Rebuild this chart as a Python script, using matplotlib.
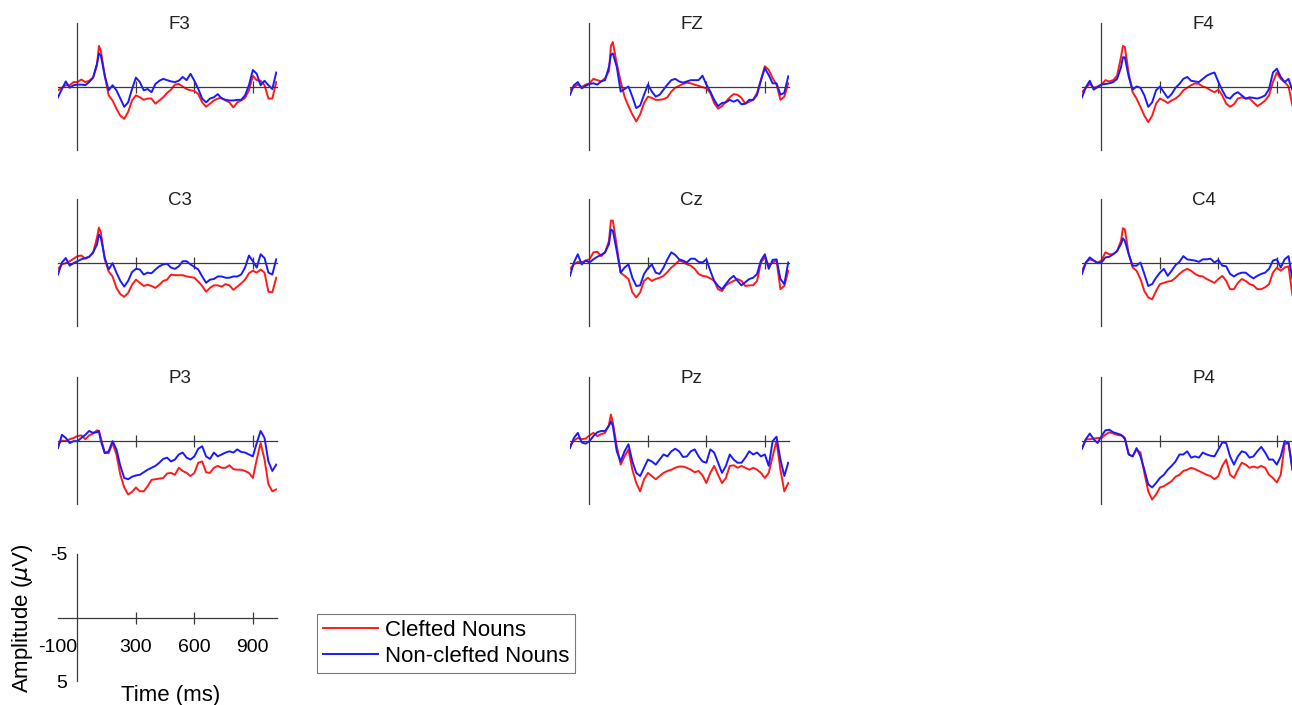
import matplotlib
matplotlib.use('Agg')
import matplotlib.pyplot as plt

plt.rcParams['font.family'] = ['Liberation Sans', 'DejaVu Sans']

# ---------------- data (ms, µV; negative plotted up) ----------------
times_ms = [-100, -80, -60, -40, -20, 0, 20, 40, 60, 80,
            100, 110, 120, 140, 160, 180, 200, 220, 240, 260,
            280, 300, 320, 340, 360, 380, 400, 420, 440, 460,
            480, 500, 520, 540, 560, 580, 600, 620, 640, 660,
            680, 700, 720, 740, 760, 780, 800, 820, 840, 860,
            880, 900, 920, 940, 960, 980, 1000, 1020]

channels = ['F3', 'FZ', 'F4', 'C3', 'Cz', 'C4', 'P3', 'Pz', 'P4']
legend_labels = ['Clefted Nouns', 'Non-clefted Nouns']
x_tick_values = [-100, 300, 600, 900]
y_tick_values = [-5, 5]

F3_clefted = [0.3, 0.1, -0.1, -0.1, -0.35, -0.35, -0.55, -0.35, -0.45, -0.7,
              -1.65, -3.2, -2.8, -0.85, 0.7, 1.1, 1.75, 2.3, 2.55, 2.0,
              1.1, 0.7, 0.85, 1.05, 0.95, 0.95, 1.35, 1.1, 0.85, 0.5,
              0.25, -0.15, -0.2, 0.0, 0.2, 0.3, 0.35, 0.6, 1.25, 1.6,
              1.35, 1.1, 0.95, 0.9, 1.1, 1.25, 1.65, 1.25, 1.1, 0.9,
              0.3, -0.85, -0.5, -0.45, -0.1, 0.95, 0.95, -0.35]
F3_noncleft = [0.85, 0.2, -0.4, 0.1, -0.1, -0.15, -0.15, -0.1, -0.35, -0.7,
               -1.8, -2.6, -2.45, -0.85, 0.3, -0.1, 0.3, 0.95, 1.6, 1.25,
               0.2, -0.7, -0.35, 0.3, 0.2, 0.45, -0.2, -0.45, -0.6, -0.5,
               -0.4, -0.35, -0.45, -0.75, -0.5, -1.0, -0.45, 0.2, 0.95, 1.25,
               0.95, 0.85, 0.6, 0.95, 1.05, 1.1, 1.1, 1.05, 1.05, 0.7,
               -0.1, -1.3, -1.0, -0.1, -0.45, -0.1, 0.2, -1.1]

FZ_clefted = [0.25, 0.05, -0.15, 0.05, -0.15, -0.25, -0.6, -0.5, -0.4, -0.65,
              -1.2, -3.2, -3.5, -1.8, -0.4, 0.8, 1.55, 2.2, 2.75, 2.2,
              1.3, 0.8, 0.9, 1.05, 1.05, 1.0, 0.85, 0.4, 0.1, -0.05,
              -0.2, -0.3, -0.25, -0.15, -0.05, 0.05, 0.15, 0.5, 1.3, 1.75,
              1.55, 1.2, 0.85, 0.6, 0.65, 0.9, 1.35, 1.2, 1.05, 0.5,
              -0.5, -1.6, -1.3, -0.65, -0.15, 1.05, 0.8, -0.25]
FZ_noncleft = [0.65, -0.1, -0.35, 0.15, -0.05, -0.2, -0.25, -0.15, -0.4, -0.5,
               -1.55, -2.5, -2.6, -1.55, 0.4, 0.2, 0.0, 0.8, 1.7, 1.5,
               0.65, -0.15, 0.4, 0.8, 0.65, 0.25, -0.15, -0.5, -0.6, -0.4,
               -0.3, -0.4, -0.5, -0.5, -0.5, -0.85, -0.15, 0.4, 1.05, 1.55,
               1.3, 1.25, 1.05, 1.2, 1.05, 1.4, 1.35, 1.05, 1.05, 0.65,
               -0.5, -1.45, -0.9, -0.25, -0.25, 0.65, 0.5, -0.8]

F4_clefted = [0.45, 0.1, -0.2, 0.1, 0.0, -0.15, -0.5, -0.4, -0.5, -0.85,
              -2.3, -3.2, -3.1, -1.0, 0.45, 0.95, 1.6, 2.3, 2.8, 2.3,
              1.35, 0.95, 1.1, 1.3, 1.1, 0.95, 0.7, 0.3, 0.1, -0.1,
              -0.25, -0.2, 0.0, 0.1, 0.3, 0.45, 0.25, 0.7, 1.35, 1.6,
              1.4, 0.95, 0.85, 0.95, 0.95, 1.25, 1.55, 1.35, 1.1, 0.7,
              -0.35, -1.1, -0.6, -0.35, 0.0, 1.5, 2.0, 1.5]
F4_noncleft = [0.85, 0.05, -0.45, 0.25, 0.05, -0.15, -0.2, -0.25, -0.35, -0.6,
               -1.5, -2.3, -2.3, -0.75, 0.25, 0.0, 0.1, 0.7, 1.6, 1.25,
               0.3, 0.0, 0.45, 0.9, 0.6, 0.1, -0.2, -0.6, -0.75, -0.45,
               -0.4, -0.35, -0.6, -0.85, -1.0, -1.1, -0.35, 0.3, 0.85, 0.95,
               0.6, 0.45, 0.7, 0.95, 0.85, 0.9, 0.95, 0.85, 0.7, 0.2,
               -1.1, -1.4, -0.75, -0.35, -0.6, 0.3, 0.5, 0.0]

C3_clefted = [0.5, 0.15, 0.05, -0.1, -0.3, -0.5, -0.55, -0.3, -0.45, -0.75,
              -1.95, -2.75, -2.35, -0.25, 0.7, 1.1, 2.0, 2.5, 2.7, 2.4,
              1.75, 1.35, 1.6, 1.85, 1.75, 1.85, 2.0, 1.75, 1.45, 1.35,
              0.95, 1.0, 1.0, 1.0, 1.1, 1.15, 1.2, 1.5, 1.85, 2.3,
              2.0, 1.8, 1.8, 1.9, 1.7, 1.8, 2.15, 1.9, 1.65, 1.35,
              0.85, 0.65, 0.8, 0.55, 0.8, 2.3, 2.35, 1.2]
C3_noncleft = [0.95, 0.0, -0.35, 0.25, 0.05, -0.1, -0.25, -0.35, -0.45, -0.8,
               -1.4, -2.2, -1.95, -0.35, 0.55, 0.05, 0.8, 1.45, 1.9, 1.45,
               0.75, 0.5, 0.55, 0.95, 0.8, 0.85, 0.55, 0.3, 0.15, 0.1,
               0.4, 0.5, 0.3, -0.1, -0.1, 0.15, 0.35, 0.55, 1.1, 1.6,
               1.35, 1.3, 1.1, 1.1, 1.2, 1.2, 1.1, 1.1, 0.95, 0.4,
               -0.55, -0.1, 0.4, -0.65, -0.35, 0.8, 0.95, -0.25]

Cz_clefted = [0.5, 0.15, -0.05, 0.0, -0.15, -0.25, -0.8, -0.85, -0.5, -0.8,
              -1.7, -3.3, -3.3, -1.3, 0.8, 1.05, 1.3, 2.35, 2.75, 2.35,
              1.45, 1.2, 1.45, 1.3, 1.2, 1.05, 0.75, 0.4, 0.15, -0.15,
              -0.05, 0.15, 0.25, 0.5, 0.9, 1.05, 1.1, 1.25, 1.45, 2.1,
              2.25, 1.8, 1.6, 1.45, 1.3, 1.45, 1.85, 1.8, 1.8, 1.45,
              0.0, -0.4, 0.25, 0.0, -0.15, 2.1, 1.85, 0.65]
Cz_noncleft = [1.05, 0.0, -0.65, 0.15, -0.15, 0.0, -0.25, -0.45, -0.6, -0.8,
               -1.45, -2.6, -2.5, -0.9, 0.8, 0.4, 0.15, 1.2, 1.85, 1.8,
               0.9, 0.45, 0.15, 0.8, 0.9, 0.4, -0.25, -0.8, -0.6, -0.25,
               -0.15, 0.0, -0.3, -0.3, -0.05, 0.0, -0.25, 0.65, 1.45, 1.85,
               2.1, 1.7, 1.3, 1.05, 1.45, 1.8, 1.55, 1.3, 1.2, 0.9,
               -0.15, -0.65, 0.5, -0.2, -0.25, 1.3, 1.7, 0.0]

C4_clefted = [0.65, 0.0, -0.25, -0.15, 0.0, -0.15, -0.8, -0.65, -0.65, -0.9,
              -1.7, -2.7, -2.6, -0.65, 0.4, 0.65, 1.3, 2.25, 2.75, 2.9,
              2.25, 1.7, 1.6, 1.5, 1.45, 1.2, 0.9, 0.65, 0.5, 0.65,
              0.9, 1.05, 1.1, 1.3, 1.45, 1.6, 1.3, 1.05, 1.45, 2.1,
              2.1, 1.6, 1.3, 1.45, 1.7, 1.8, 2.1, 2.1, 1.95, 1.7,
              0.8, 0.4, 0.65, 0.4, 0.3, 2.6, 3.0, 2.5]
C4_noncleft = [0.9, 0.0, -0.4, -0.15, 0.05, 0.0, -0.4, -0.45, -0.65, -0.9,
               -1.45, -1.9, -1.7, -0.65, 0.25, 0.25, 0.0, 0.9, 1.85, 1.7,
               1.2, 0.8, 0.5, 1.05, 0.65, 0.2, -0.05, -0.5, -0.25, -0.2,
               -0.15, -0.05, -0.25, -0.25, -0.3, 0.0, -0.2, 0.25, 0.3, 0.9,
               1.1, 0.9, 0.8, 0.8, 1.05, 1.25, 1.05, 0.9, 0.8, 0.5,
               -0.15, -0.25, 0.4, -0.25, -0.5, 1.3, 1.5, 1.0]

P3_clefted = [0.3, 0.0, 0.05, -0.1, -0.2, -0.35, -0.4, -0.1, -0.4, -0.55,
              -0.8, -0.75, -0.2, 0.95, 1.0, 0.2, 1.1, 2.7, 3.7, 4.25,
              4.05, 3.7, 4.0, 4.0, 3.6, 3.1, 3.05, 3.0, 2.95, 2.6,
              2.55, 2.7, 2.15, 2.4, 2.55, 2.8, 2.55, 1.75, 1.65, 2.5,
              2.55, 2.15, 2.0, 2.15, 2.15, 1.95, 2.25, 2.3, 2.3, 2.4,
              2.55, 2.95, 1.5, 0.2, 1.5, 3.45, 4.0, 3.85]
P3_noncleft = [0.6, -0.45, -0.2, 0.2, 0.05, 0.05, -0.2, -0.45, -0.75, -0.6,
               -0.65, -0.75, 0.05, 1.0, 0.85, 0.05, 0.7, 2.0, 2.95, 3.05,
               2.85, 2.75, 2.7, 2.5, 2.3, 2.15, 2.0, 1.75, 1.45, 1.35,
               1.65, 1.5, 1.1, 0.95, 1.35, 1.5, 1.25, 0.65, 0.45, 1.25,
               1.45, 0.95, 1.25, 1.1, 0.95, 0.85, 0.95, 0.7, 0.9, 0.95,
               1.1, 1.25, 0.2, -0.75, -0.2, 1.65, 2.4, 1.9]

Pz_clefted = [0.4, 0.0, -0.2, -0.1, -0.15, -0.4, -0.6, -0.35, -0.5, -0.6,
              -1.25, -2.05, -1.4, 0.45, 1.9, 1.25, 0.7, 2.3, 3.35, 4.0,
              3.05, 2.55, 2.8, 3.05, 2.8, 2.55, 2.4, 2.3, 2.15, 2.05,
              2.05, 2.15, 2.3, 2.5, 2.4, 2.75, 3.35, 2.55, 2.0, 2.7,
              3.35, 2.95, 2.0, 1.95, 2.15, 2.0, 2.15, 2.3, 2.15, 2.3,
              2.55, 2.95, 2.55, 1.25, 0.05, 2.3, 4.0, 3.35]
Pz_noncleft = [0.6, -0.2, -0.6, 0.15, 0.25, 0.05, -0.35, -0.65, -0.75, -0.75,
               -1.15, -1.5, -1.15, 0.85, 1.65, 0.85, 0.3, 1.65, 2.55, 2.8,
               2.15, 1.5, 1.65, 1.9, 1.5, 1.1, 1.25, 0.85, 0.65, 0.85,
               1.3, 1.25, 0.85, 0.7, 1.25, 1.65, 1.75, 0.7, 0.95, 1.75,
               2.55, 2.0, 1.1, 1.5, 1.75, 1.75, 1.35, 0.85, 1.1, 0.95,
               1.25, 1.1, 2.0, 0.05, -0.3, 1.5, 2.8, 1.75]

P4_clefted = [0.6, -0.1, -0.1, -0.15, -0.2, -0.2, -0.45, -0.65, -0.55, -0.45,
              -0.4, -0.35, -0.2, 1.1, 1.25, 0.7, 0.95, 2.55, 4.0, 4.65,
              4.25, 3.7, 3.6, 3.4, 3.2, 2.85, 2.7, 2.4, 2.3, 2.15,
              2.25, 2.4, 2.55, 2.7, 2.8, 3.05, 2.8, 2.0, 1.5, 2.7,
              2.95, 2.3, 1.75, 1.9, 2.15, 2.05, 2.15, 2.0, 2.15, 2.7,
              2.95, 3.3, 2.7, 0.3, 0.2, 2.3, 3.5, 3.5]
P4_noncleft = [0.65, -0.1, -0.55, -0.1, 0.2, -0.35, -0.8, -0.85, -0.65, -0.55,
               -0.45, -0.3, -0.1, 1.1, 1.25, 0.6, 1.25, 2.3, 3.45, 3.7,
               3.35, 2.95, 2.7, 2.3, 2.0, 1.65, 1.1, 1.1, 0.85, 1.35,
               1.25, 1.35, 0.95, 1.1, 1.2, 1.25, 0.7, 0.15, 0.2, 1.25,
               1.9, 1.25, 0.85, 0.95, 1.35, 1.25, 0.85, 0.5, 0.95, 1.5,
               1.5, 1.9, 1.25, 0.05, 0.2, 2.3, 3.0, 2.5]

clefted_series = [F3_clefted, FZ_clefted, F4_clefted,
                  C3_clefted, Cz_clefted, C4_clefted,
                  P3_clefted, Pz_clefted, P4_clefted]
noncleft_series = [F3_noncleft, FZ_noncleft, F4_noncleft,
                   C3_noncleft, Cz_noncleft, C4_noncleft,
                   P3_noncleft, Pz_noncleft, P4_noncleft]

# ---------------- layout / style ----------------
W, H = 1292, 705
fig = plt.figure(figsize=(W / 100, H / 100), dpi=100)

RED = '#ff1a1a'
BLUE = '#1a1aff'
AXC = '#3a3a3a'
LW = 1.4
XLIM = (-100, 1024)
YLIM = (5, -5)

col_x = [58, 570, 1082]
row_y = [23, 199, 377]
ax_w, ax_h = 219, 127


def px_axes(x0, y0, w, h):
    return fig.add_axes([x0 / W, 1 - (y0 + h) / H, w / W, h / H])


def style_axes(ax):
    ax.set_xlim(*XLIM)
    ax.set_ylim(*YLIM)
    ax.patch.set_visible(False)
    for s in ('top', 'right'):
        ax.spines[s].set_visible(False)
    ax.spines['left'].set_position(('data', 0))
    ax.spines['bottom'].set_position(('data', 0))
    for s in ('left', 'bottom'):
        ax.spines[s].set_color(AXC)
        ax.spines[s].set_linewidth(0.9)
    ax.tick_params(axis='x', direction='inout', length=8, width=0.9,
                   color=AXC)
    ax.tick_params(axis='y', length=0)


handles = None
for i, name in enumerate(channels):
    r, c = divmod(i, 3)
    ax = px_axes(col_x[c], row_y[r], ax_w, ax_h)
    style_axes(ax)
    ax.set_xticks(x_tick_values[1:])
    ax.set_xticklabels([])
    ax.set_yticks([])
    l1, = ax.plot(times_ms, clefted_series[i], color=RED, lw=LW)
    l2, = ax.plot(times_ms, noncleft_series[i], color=BLUE, lw=LW)
    if handles is None:
        handles = [l1, l2]
    ax.text(0.556, 0.99, name, transform=ax.transAxes, ha='center',
            va='center', fontsize=13.5, color='#222222')

# scale axes
sax = px_axes(58, 554, ax_w, ax_h)
style_axes(sax)
sax.set_xticks(x_tick_values)
sax.set_xticklabels([str(v) for v in x_tick_values], fontsize=14)
sax.xaxis.get_major_ticks()[0].tick1line.set_visible(False)
sax.tick_params(axis='x', pad=11.5)
sax.set_yticks(y_tick_values)
sax.set_yticklabels([str(v) for v in y_tick_values], fontsize=14)
sax.tick_params(axis='y', pad=7.5)

fig.text(23 / W, 1 - 618 / H, r'Amplitude ($\mu$V)', rotation=90,
         ha='center', va='center', fontsize=16)
fig.text(171 / W, 1 - 695 / H, 'Time (ms)', ha='center', va='center',
         fontsize=16)

leg = fig.legend(handles=handles, labels=legend_labels, loc='upper left',
                 bbox_to_anchor=(317 / W, 1 - 614 / H),
                 bbox_transform=fig.transFigure, frameon=True,
                 fancybox=False, edgecolor='#7a7a7a', framealpha=1,
                 fontsize=16, handlelength=2.5, handletextpad=0.3,
                 borderpad=0.25, labelspacing=0.25, borderaxespad=0)
leg.get_frame().set_linewidth(0.8)

fig.savefig('out.png', dpi=100)
